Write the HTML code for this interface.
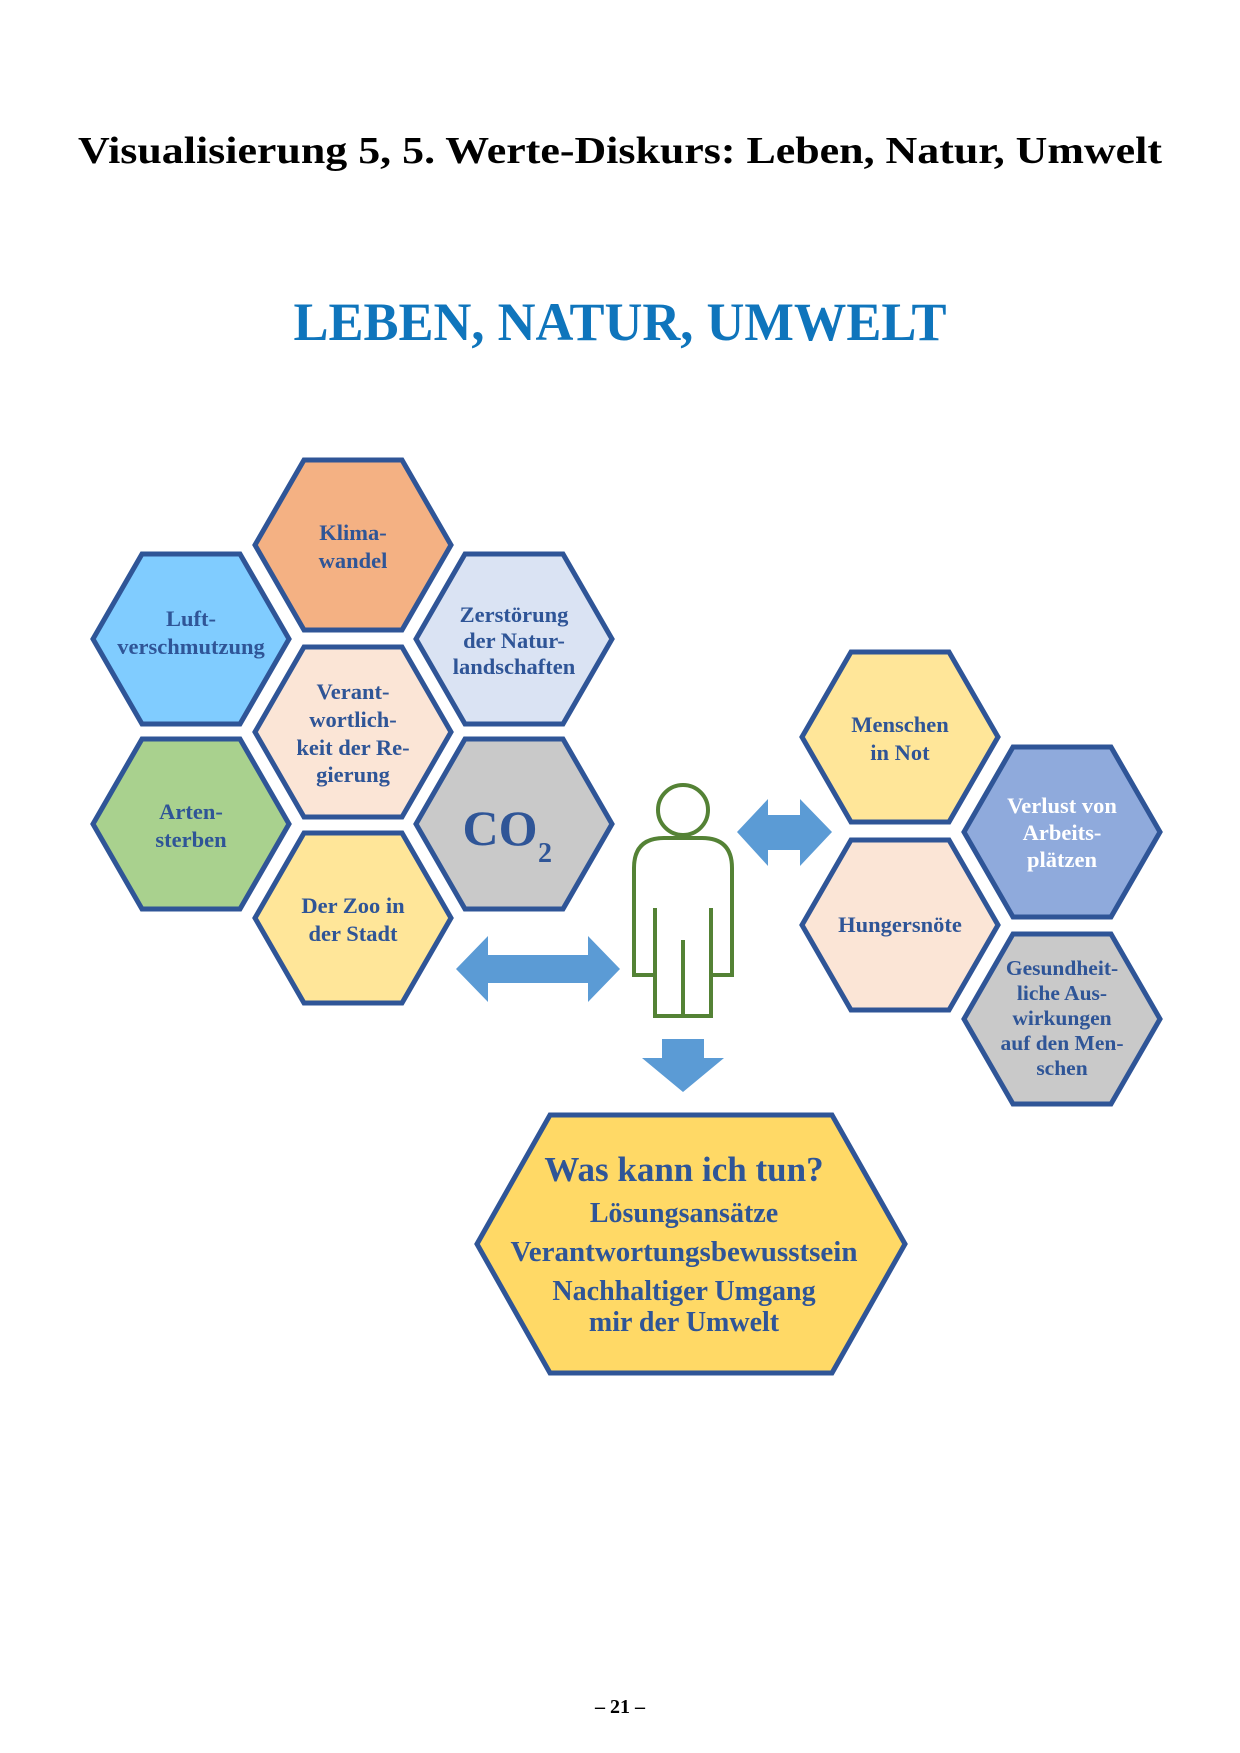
<!DOCTYPE html>
<html><head><meta charset="utf-8"><style>
html,body{margin:0;padding:0;background:#fff;}
svg{display:block;}
text{font-family:"Liberation Serif",serif;font-weight:bold;}
</style></head><body>
<svg width="1240" height="1753" viewBox="0 0 1240 1753" xmlns="http://www.w3.org/2000/svg">
<defs>
<polygon id="hx" points="-98,0 -49,-85 49,-85 98,0 49,85 -49,85"/>
</defs>
<text x="620" y="163" font-size="38" text-anchor="middle" fill="#000" textLength="1084" lengthAdjust="spacingAndGlyphs">Visualisierung 5, 5. Werte-Diskurs: Leben, Natur, Umwelt</text>
<text x="620" y="340" font-size="54" text-anchor="middle" fill="#0f75bc" textLength="653" lengthAdjust="spacingAndGlyphs">LEBEN, NATUR, UMWELT</text>

<g stroke="#2f5597" stroke-width="5" stroke-linejoin="miter">
<use href="#hx" x="353" y="545" fill="#f4b183"/>
<use href="#hx" x="191" y="639" fill="#80ccff"/>
<use href="#hx" x="514" y="639" fill="#dae3f3"/>
<use href="#hx" x="353" y="732" fill="#fbe5d6"/>
<use href="#hx" x="191" y="824" fill="#a9d18e"/>
<use href="#hx" x="514" y="824" fill="#c9c9c9"/>
<use href="#hx" x="353" y="918" fill="#ffe699"/>
<use href="#hx" x="900" y="737" fill="#ffe699"/>
<use href="#hx" x="1062" y="832" fill="#8faadc"/>
<use href="#hx" x="900" y="925" fill="#fbe5d6"/>
<use href="#hx" x="1062" y="1019" fill="#c9c9c9"/>
<polygon points="477,1244 550,1115 832,1115 905,1244 832,1373 550,1373" fill="#ffd966"/>
</g>

<g font-size="22.5" fill="#2f5597" text-anchor="middle">
<text x="353" y="540">Klima-</text><text x="353" y="568">wandel</text>
<text x="191" y="626">Luft-</text><text x="191" y="654">verschmutzung</text>
<text x="514" y="622">Zerstörung</text><text x="514" y="648">der Natur-</text><text x="514" y="674">landschaften</text>
<text x="353" y="699">Verant-</text><text x="353" y="727">wortlich-</text><text x="353" y="755">keit der Re-</text><text x="353" y="782">gierung</text>
<text x="191" y="819">Arten-</text><text x="191" y="847">sterben</text>
<text x="353" y="913">Der Zoo in</text><text x="353" y="941">der Stadt</text>
<text x="900" y="732">Menschen</text><text x="900" y="760">in Not</text>
<text x="900" y="932">Hungersnöte</text>
<g font-size="21.5"><text x="1062" y="975">Gesundheit-</text><text x="1062" y="1000">liche Aus-</text><text x="1062" y="1025">wirkungen</text><text x="1062" y="1050">auf den Men-</text><text x="1062" y="1075">schen</text></g>
</g>
<g font-size="22.5" fill="#fff" text-anchor="middle">
<text x="1062" y="813">Verlust von</text><text x="1062" y="840">Arbeits-</text><text x="1062" y="867">plätzen</text>
</g>
<text x="500" y="845" font-size="50" fill="#2f5597" text-anchor="middle" font-weight="normal">CO</text>
<text x="545" y="862" font-size="28" fill="#2f5597" text-anchor="middle">2</text>

<g fill="#2f5597" text-anchor="middle">
<text x="684" y="1181" font-size="35">Was kann ich tun?</text>
<text x="684" y="1222" font-size="28">Lösungsansätze</text>
<text x="684" y="1261" font-size="29">Verantwortungsbewusstsein</text>
<text x="684" y="1300" font-size="28">Nachhaltiger Umgang</text>
<text x="684" y="1331" font-size="28">mir der Umwelt</text>
</g>

<g fill="#5b9bd5">
<polygon points="456,969 488,936 488,955 588,955 588,936 620,969 588,1002 588,983 488,983 488,1002"/>
<polygon points="737,832 768,799 768,815 800,815 800,799 832,832 800,866 800,850 768,850 768,866"/>
<polygon points="662,1039 704,1039 704,1058 724,1058 683,1092 642,1058 662,1058"/>
</g>

<g fill="none" stroke="#548235" stroke-width="4">
<circle cx="683" cy="810" r="25"/>
<path d="M655,975 L634,975 L634,868 Q634,838 664,838 L702,838 Q732,838 732,868 L732,975 L711,975"/>
<path d="M655,908 L655,1016 L711,1016 L711,908"/>
<path d="M683,940 L683,1016"/>
</g>

<text x="620" y="1713" font-size="20" text-anchor="middle" fill="#000">– 21 –</text>
</svg>
</body></html>
